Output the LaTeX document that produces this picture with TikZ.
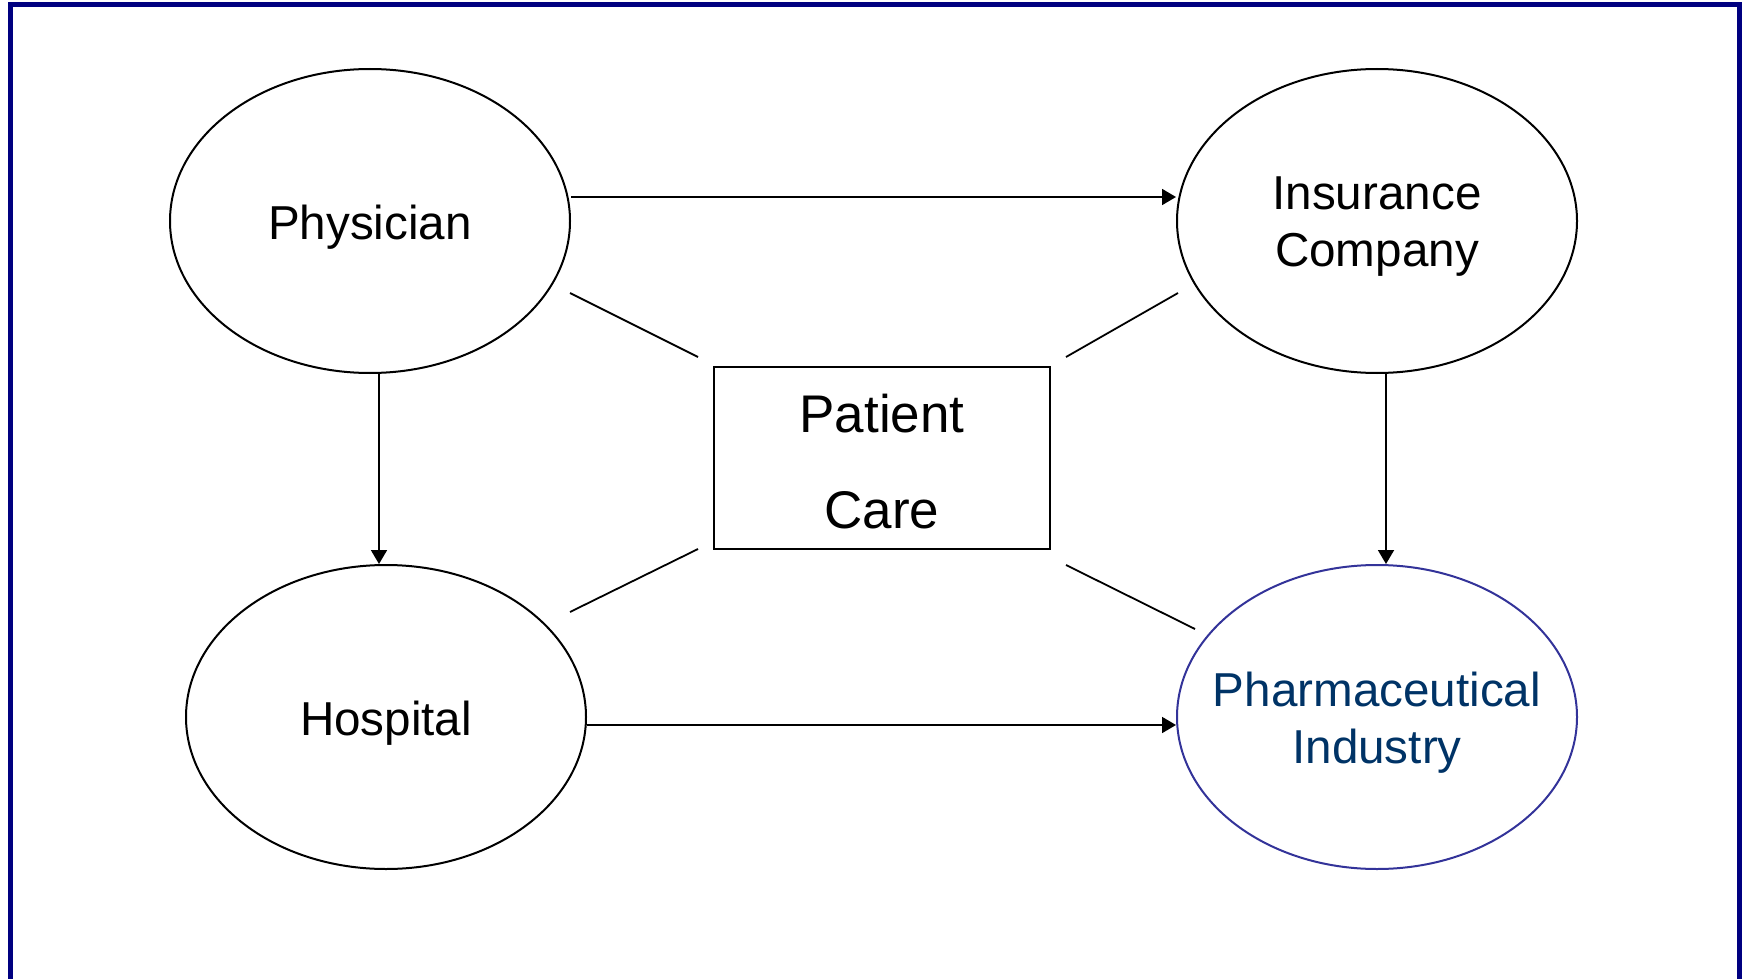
\documentclass[tikz,border=0pt]{standalone}
\usepackage{fontspec}
\setmainfont{Liberation Sans}
\usetikzlibrary{shapes.geometric,arrows.meta}
\definecolor{framecol}{RGB}{0,0,128}
\definecolor{pharmtext}{RGB}{0,51,102}
\definecolor{pharmline}{RGB}{51,51,153}
\begin{document}
\begin{tikzpicture}[x=0.5pt,y=-0.5pt,
  ent/.style={ellipse, draw, line width=1pt, minimum width=200pt, minimum height=152pt,
    inner sep=0pt},
  enttext/.style={align=center, inner sep=0pt, yshift=-3pt, font=\fontsize{23.8}{28.5}\selectfont},
  carebox/.style={draw, line width=1pt, minimum width=168pt, minimum height=91pt,
    inner sep=0pt},
  caretext/.style={align=center, inner sep=0pt, yshift=-1.7pt, font=\fontsize{26.5}{48}\selectfont},
  arr/.style={-{Triangle[length=7pt,width=8pt]}, line width=0.9pt},
  link/.style={line width=0.9pt}]
\useasboundingbox (0,0) rectangle (1746,979);
\draw[framecol, line width=2.5pt] (10.5,5) rectangle (1739,1000);
\node[ent, label={[enttext]center:Physician}] (phys) at (370,221) {};
\node[ent, label={[enttext]center:Insurance\\Company}] (ins) at (1377,221) {};
\node[ent, label={[enttext]center:Hospital}] (hosp) at (386,717) {};
\node[ent, draw=pharmline, label={[enttext, text=pharmtext]center:Pharmaceutical\\Industry}] (pharm) at (1377,717) {};
\node[carebox, label={[caretext]center:Patient\\Care}] (pc) at (882,458) {};
% arrows
\coordinate (ya) at (0,197);
\coordinate (yb) at (0,725);
\coordinate (xa) at (379,0);
\coordinate (xb) at (1386,0);
\draw[arr] (phys.east |- ya) -- (ins.west |- ya);
\draw[arr] (xa |- phys.south) -- (xa |- hosp.north);
\draw[arr] (xb |- ins.south) -- (xb |- pharm.north);
\draw[arr] (hosp.east |- yb) -- (pharm.west |- yb);
% free links
\coordinate (l1a) at (570,293); \coordinate (l1b) at (698,357);
\coordinate (l2a) at (1178,293); \coordinate (l2b) at (1066,357);
\coordinate (l3a) at (570,612); \coordinate (l3b) at (698,549);
\coordinate (l4a) at (1066,565); \coordinate (l4b) at (1195,629);
\draw[link] (l1a) -- (l1b);
\draw[link] (l2a) -- (l2b);
\draw[link] (l3a) -- (l3b);
\draw[link] (l4a) -- (l4b);
\end{tikzpicture}
\end{document}
